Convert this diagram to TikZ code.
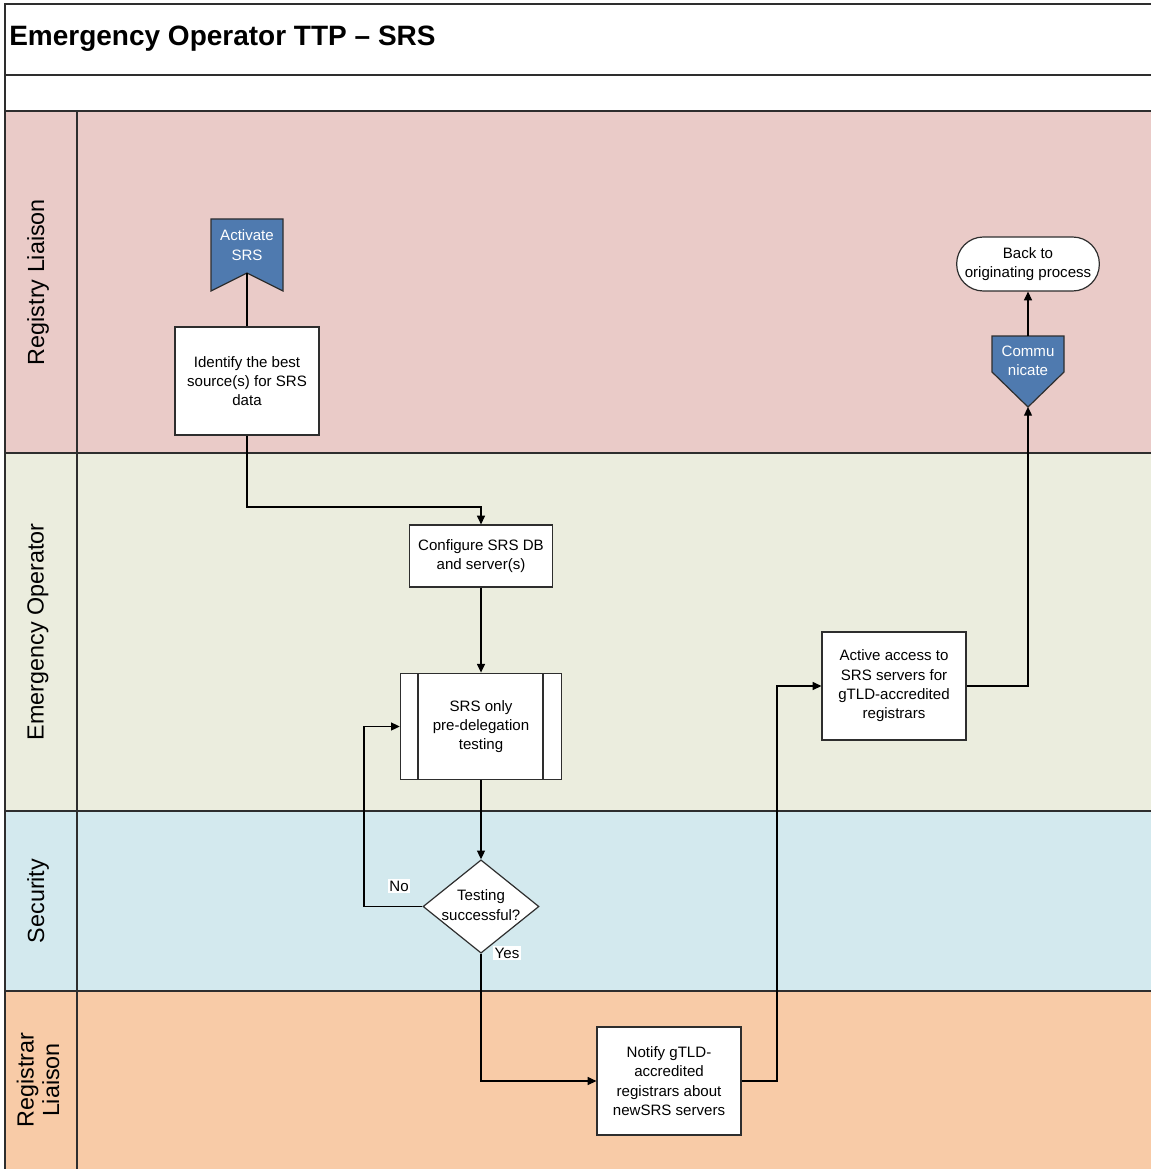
\documentclass[tikz,border=0pt]{standalone}
\usepackage{fontspec}
\setmainfont{Liberation Sans}
\usetikzlibrary{arrows.meta,shapes.geometric}
\definecolor{lanepink}{HTML}{EACBC8}
\definecolor{lanegreen}{HTML}{EBEDDE}
\definecolor{laneblue}{HTML}{D3E9EE}
\definecolor{laneorange}{HTML}{F8CBA7}
\definecolor{shapeblue}{HTML}{4F7AAF}
\definecolor{edgegray}{HTML}{2E2E2E}
\begin{document}
\begin{tikzpicture}[x=0.75pt,y=-0.75pt,
  lane/.style={draw=edgegray,line width=1pt},
  lanelabel/.style={rotate=90,font=\fontsize{17.5}{19}\selectfont,align=center,inner sep=0},
  proc/.style={draw=edgegray,fill=white,line width=0.9pt,align=center,inner sep=2pt,
    font=\fontsize{11.3}{14.5}\selectfont,minimum width=108pt,minimum height=81pt},
  arr/.style={draw=black,line width=0.9pt,-{Triangle[length=6.5pt,width=6pt]}},
  conn/.style={draw=black,line width=0.9pt},
  bluetext/.style={text=white,align=center,font=\fontsize{11.3}{14.5}\selectfont,inner sep=0},
  lbl/.style={fill=white,inner sep=1pt,font=\fontsize{11.3}{12}\selectfont}]
\useasboundingbox (0,0) rectangle (1151,1169);
% lanes
\fill[white] (5,4) rectangle (1151,111);
\fill[lanepink] (5,111) rectangle (1151,453);
\fill[lanegreen] (5,453) rectangle (1151,811);
\fill[laneblue] (5,811) rectangle (1151,991);
\fill[laneorange] (5,991) rectangle (1151,1169);
\draw[lane] (1151,4) -- (5,4) -- (5,1169);
\draw[lane] (5,75) -- (1151,75);
\draw[lane] (5,111) -- (1151,111);
\draw[lane] (5,453) -- (1151,453);
\draw[lane] (5,811) -- (1151,811);
\draw[lane] (5,991) -- (1151,991);
\draw[lane] (77,111) -- (77,1169);
\node[anchor=west,font=\fontsize{21}{24}\selectfont\bfseries,inner sep=0] (title) at (9,39) {Emergency Operator TTP -- SRS};
\node[lanelabel] (l1) at (38,282) {Registry Liaison};
\node[lanelabel] (l2) at (38,632) {Emergency Operator};
\node[lanelabel] (l3) at (38,901) {Security};
\node[lanelabel] (l4) at (38,1080) {Registrar\\Liaison};
% Activate SRS
\draw[draw=edgegray,fill=shapeblue,line width=0.9pt] (211,219) -- (283,219) -- (283,291) -- (247,273) -- (211,291) -- cycle;
\node[bluetext] (act) at (247,245) {Activate\\SRS};
\coordinate (actnotch) at (247,273);
% Communicate
\draw[draw=edgegray,fill=shapeblue,line width=0.9pt] (992,336) -- (1064,336) -- (1064,372) -- (1028,407) -- (992,372) -- cycle;
\node[bluetext] (comm) at (1028,361) {Commu\\nicate};
\coordinate (commtop) at (1028,336);
\coordinate (commtip) at (1028,407);
% Back to
\node[draw=edgegray,fill=white,line width=0.9pt,rounded corners=20pt,minimum width=107pt,minimum height=40.5pt,align=center,inner sep=0.5pt,font=\fontsize{11.3}{14.5}\selectfont] (back) at (1028,264) {Back to\\originating process};
% process boxes
\node[proc] (ident) at (247,381) {Identify the best\\source(s) for SRS\\data};
\node[proc,minimum width=107pt,minimum height=46.5pt] (conf) at (481,556) {Configure SRS DB\\and server(s)};
\node[proc,minimum width=121pt,minimum height=80pt] (srs) at (481,726.5) {SRS only\\pre-delegation\\testing};
\draw[edgegray,line width=0.9pt] (418,673) -- (418,780) (543,673) -- (543,780);
\node[draw=edgegray,fill=white,line width=0.9pt,diamond,minimum width=87pt,minimum height=70pt,inner sep=0] (dia) at (481,906.5) {};
\node[align=center,inner sep=0,font=\fontsize{11.3}{14.5}\selectfont] (diatext) at (481,905) {Testing\\successful?};
\node[proc] (notify) at (669,1081) {Notify gTLD-\\accredited\\registrars about\\newSRS servers};
\node[proc] (active) at (894,686) {Active access to\\SRS servers for\\gTLD-accredited\\registrars};
% connectors
\draw[conn] (actnotch) -- (ident.north);
\draw[arr] (ident.south) -- (247,507) -| (conf.north);
\draw[arr] (conf.south) -- (srs.north);
\draw[arr] (srs.south) -- (dia.north);
\draw[arr] (dia.west) -- (364,906.5) |- (srs.west);
\draw[arr] (dia.south) |- (notify.west);
\draw[arr] (notify.east) -- (777,1081) |- (active.west);
\draw[arr] (active.east) -| (commtip);
\draw[arr] (commtop) -- (back.south);
\node[lbl] (no) at (399,886) {No};
\node[lbl] (yes) at (507,953) {Yes};
\end{tikzpicture}
\end{document}
